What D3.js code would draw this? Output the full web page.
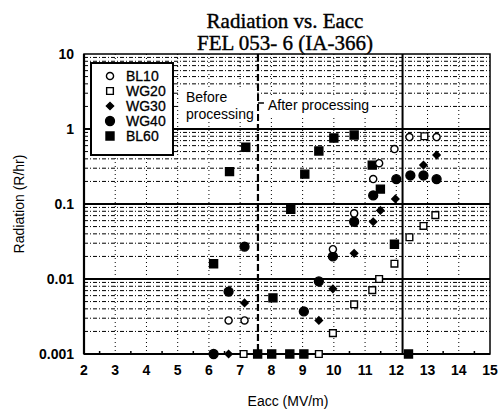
<!DOCTYPE html>
<html>
<head>
<meta charset="utf-8">
<script src="https://cdn.jsdelivr.net/npm/d3@7"></script>
<style>
  body { margin: 0; background: #fff; }
  text { font-family: "Liberation Sans", Arial, sans-serif; fill: #000; }
</style>
</head>
<body>
<script>
// values
const bl10X = [6.63, 7.14, 9.97, 10.65, 11.26, 11.45, 11.94, 12.42, 13.29];
const bl10Y = [0.0028, 0.0028, 0.025, 0.075, 0.215, 0.35, 0.54, 0.78, 0.78];

const wg20X = [7.11, 9.52, 9.97, 10.65, 11.23, 11.45, 11.94, 12.42, 12.87, 13.25, 12.9];
const wg20Y = [0.001, 0.001, 0.0019, 0.0046, 0.0071, 0.01, 0.016, 0.036, 0.051, 0.071, 0.8];

const wg30X = [6.63, 7.14, 9.52, 9.97, 10.65, 11.26, 11.49, 11.97, 12.87, 13.29];
const wg30Y = [0.001, 0.0048, 0.0028, 0.0074, 0.022, 0.058, 0.082, 0.117, 0.33, 0.45];

const wg40X = [6.15, 6.63, 7.14, 9.04, 9.52, 9.97, 10.65, 11.26, 12.0, 12.45, 12.87, 13.29];
const wg40Y = [0.001, 0.0068, 0.027, 0.0037, 0.0093, 0.02, 0.058, 0.13, 0.215, 0.24, 0.24, 0.215];

const bl60X = [6.15, 6.66, 7.18, 7.56, 8.01, 8.05, 8.59, 8.62, 9.04, 9.07, 9.52, 10.0, 10.65, 11.23, 11.49, 11.94, 12.39];
const bl60Y = [0.016, 0.27, 0.57, 0.001, 0.001, 0.0056, 0.001, 0.085, 0.001, 0.25, 0.51, 0.76, 0.83, 0.33, 0.158, 0.029, 0.001];

const seriesNames = ['BL10', 'WG20', 'WG30', 'WG40', 'BL60'];
const xTicks = [2, 3, 4, 5, 6, 7, 8, 9, 10, 11, 12, 13, 14, 15];
const yTicks = [0.001, 0.01, 0.1, 1, 10];
const yTickLabels = ['0.001', '0.01', '0.1', '1', '10'];
const processingStart = 7.57;
const processingLimit = 12.2;

const width = 500;
const height = 409;
const plot = { left: 84, right: 490, top: 54, bottom: 354 };

const svg = d3.select('body').append('svg')
  .attr('width', width)
  .attr('height', height);

const x = d3.scaleLinear().domain([2, 15]).range([plot.left, plot.right]);
const y = d3.scaleLog().domain([0.001, 10]).range([plot.bottom, plot.top]);

// title
['Radiation vs. Eacc', 'FEL 053- 6 (IA-366)'].forEach((t, i) => {
  svg.append('text')
    .attr('x', 285).attr('y', 28 + i * 22)
    .attr('text-anchor', 'middle')
    .style('font-family', '"Liberation Serif", serif')
    .style('font-size', '21px')
    .style('stroke', '#000').style('stroke-width', 0.4)
    .text(t);
});

const grid = svg.append('g');

// minor horizontal gridlines (2..9 in each decade)
const minors = [];
for (let d = 0.001; d < 10; d *= 10) {
  for (let k = 2; k <= 9; k++) minors.push(+(d * k).toPrecision(3));
}
grid.selectAll('.minor').data(minors).enter().append('line')
  .attr('x1', plot.left).attr('x2', plot.right)
  .attr('y1', d => y(d)).attr('y2', d => y(d))
  .attr('stroke', '#000').attr('stroke-width', 1)
  .attr('stroke-dasharray', '4,2,1,2');

// vertical integer gridlines
grid.selectAll('.vgrid').data(xTicks.slice(1, -1)).enter().append('line')
  .attr('x1', d => x(d)).attr('x2', d => x(d))
  .attr('y1', plot.top).attr('y2', plot.bottom)
  .attr('stroke', '#000').attr('stroke-width', 1)
  .attr('stroke-dasharray', '1,3');

// decade lines
grid.selectAll('.major').data(yTicks.slice(1, -1)).enter().append('line')
  .attr('x1', plot.left).attr('x2', plot.right)
  .attr('y1', d => y(d)).attr('y2', d => y(d))
  .attr('stroke', '#000').attr('stroke-width', 1.8);

// half-unit ticks along the bottom
const halfTicks = d3.range(2.5, 15, 1);
grid.selectAll('.htick').data(halfTicks).enter().append('line')
  .attr('x1', d => x(d)).attr('x2', d => x(d))
  .attr('y1', plot.bottom).attr('y2', plot.bottom - 3)
  .attr('stroke', '#000').attr('stroke-width', 1.5);

// processing boundaries
svg.append('line')
  .attr('x1', x(processingStart)).attr('x2', x(processingStart))
  .attr('y1', plot.top).attr('y2', plot.bottom)
  .attr('stroke', '#000').attr('stroke-width', 2.2)
  .attr('stroke-dasharray', '7,3');
svg.append('line')
  .attr('x1', x(processingLimit)).attr('x2', x(processingLimit))
  .attr('y1', plot.top).attr('y2', plot.bottom)
  .attr('stroke', '#000').attr('stroke-width', 2);

// annotation boxes
svg.append('rect')
  .attr('x', 180).attr('y', 88).attr('width', x(processingStart) - 181).attr('height', 34)
  .attr('fill', '#fff');
svg.append('text').attr('x', 186).attr('y', 102)
  .style('font-size', '14px').text('Before');
svg.append('text').attr('x', 186).attr('y', 119)
  .style('font-size', '14px').text('processing');

svg.append('rect')
  .attr('x', x(processingStart) + 2).attr('y', 95).attr('width', 112).attr('height', 21)
  .attr('fill', '#fff');
svg.append('line')
  .attr('x1', x(processingStart)).attr('x2', x(processingStart) + 6)
  .attr('y1', 103).attr('y2', 103)
  .attr('stroke', '#000').attr('stroke-width', 1.5);
svg.append('text').attr('x', 268).attr('y', 110)
  .style('font-size', '14px').text('After processing');

// frame
svg.append('rect')
  .attr('x', plot.left).attr('y', plot.top)
  .attr('width', plot.right - plot.left).attr('height', plot.bottom - plot.top)
  .attr('fill', 'none').attr('stroke', '#000').attr('stroke-width', 1.5);
svg.append('line')
  .attr('x1', plot.left).attr('x2', plot.left)
  .attr('y1', plot.top).attr('y2', plot.bottom)
  .attr('stroke', '#000').attr('stroke-width', 2.2);
svg.append('line')
  .attr('x1', plot.left).attr('x2', plot.right)
  .attr('y1', plot.bottom).attr('y2', plot.bottom)
  .attr('stroke', '#000').attr('stroke-width', 2.2);

// axes labels
svg.selectAll('.xlab').data(xTicks).enter().append('text')
  .attr('x', d => x(d)).attr('y', 375)
  .attr('text-anchor', 'middle')
  .style('font-size', '14px').style('font-weight', 'bold')
  .text(d => d);
svg.selectAll('.ylab').data(yTicks).enter().append('text')
  .attr('x', 74).attr('y', d => y(d) + 5)
  .attr('text-anchor', 'end')
  .style('font-size', '14px').style('font-weight', 'bold')
  .text((d, i) => yTickLabels[i]);

svg.append('text')
  .attr('x', 288).attr('y', 406)
  .attr('text-anchor', 'middle')
  .style('font-size', '14px')
  .text('Eacc (MV/m)');
svg.append('text')
  .attr('transform', 'translate(24,204) rotate(-90)')
  .attr('text-anchor', 'middle')
  .style('font-size', '14px')
  .text('Radiation (R/hr)');

// markers (diamond = square turned 45deg)
const symbols = {
  BL10: { type: d3.symbolCircle, size: 40, fill: '#fff', rot: 0 },
  WG20: { type: d3.symbolSquare, size: 45, fill: '#fff', rot: 0 },
  WG30: { type: d3.symbolSquare, size: 26, fill: '#000', rot: 45 },
  WG40: { type: d3.symbolCircle, size: 62, fill: '#000', rot: 0 },
  BL60: { type: d3.symbolSquare, size: 64, fill: '#000', rot: 0 },
};
const seriesData = {
  BL10: bl10X.map((v, i) => ({ x: v, y: bl10Y[i] })),
  WG20: wg20X.map((v, i) => ({ x: v, y: wg20Y[i] })),
  WG30: wg30X.map((v, i) => ({ x: v, y: wg30Y[i] })),
  WG40: wg40X.map((v, i) => ({ x: v, y: wg40Y[i] })),
  BL60: bl60X.map((v, i) => ({ x: v, y: bl60Y[i] })),
};

['BL60', 'WG40', 'WG30', 'WG20', 'BL10'].forEach((name) => {
  const s = symbols[name];
  svg.append('g').selectAll('path').data(seriesData[name]).enter().append('path')
    .attr('transform', d => `translate(${x(d.x)},${y(d.y)}) rotate(${s.rot})`)
    .attr('d', d3.symbol().type(s.type).size(s.size))
    .attr('fill', s.fill)
    .attr('stroke', '#000')
    .attr('stroke-width', 1.4);
});

// legend
const legend = svg.append('g');
legend.append('rect')
  .attr('x', 91).attr('y', 63).attr('width', 82).attr('height', 92)
  .attr('fill', '#fff').attr('stroke', '#000').attr('stroke-width', 2);
seriesNames.forEach((name, i) => {
  const s = symbols[name];
  const ly = 76 + i * 15;
  legend.append('path')
    .attr('transform', `translate(110,${ly}) rotate(${s.rot})`)
    .attr('d', d3.symbol().type(s.type).size(s.size))
    .attr('fill', s.fill)
    .attr('stroke', '#000')
    .attr('stroke-width', 1.4);
  legend.append('text')
    .attr('x', 126).attr('y', ly + 5)
    .style('font-size', '14px')
    .style('stroke', '#000').style('stroke-width', 0.3)
    .text(name);
});
</script>
</body>
</html>
